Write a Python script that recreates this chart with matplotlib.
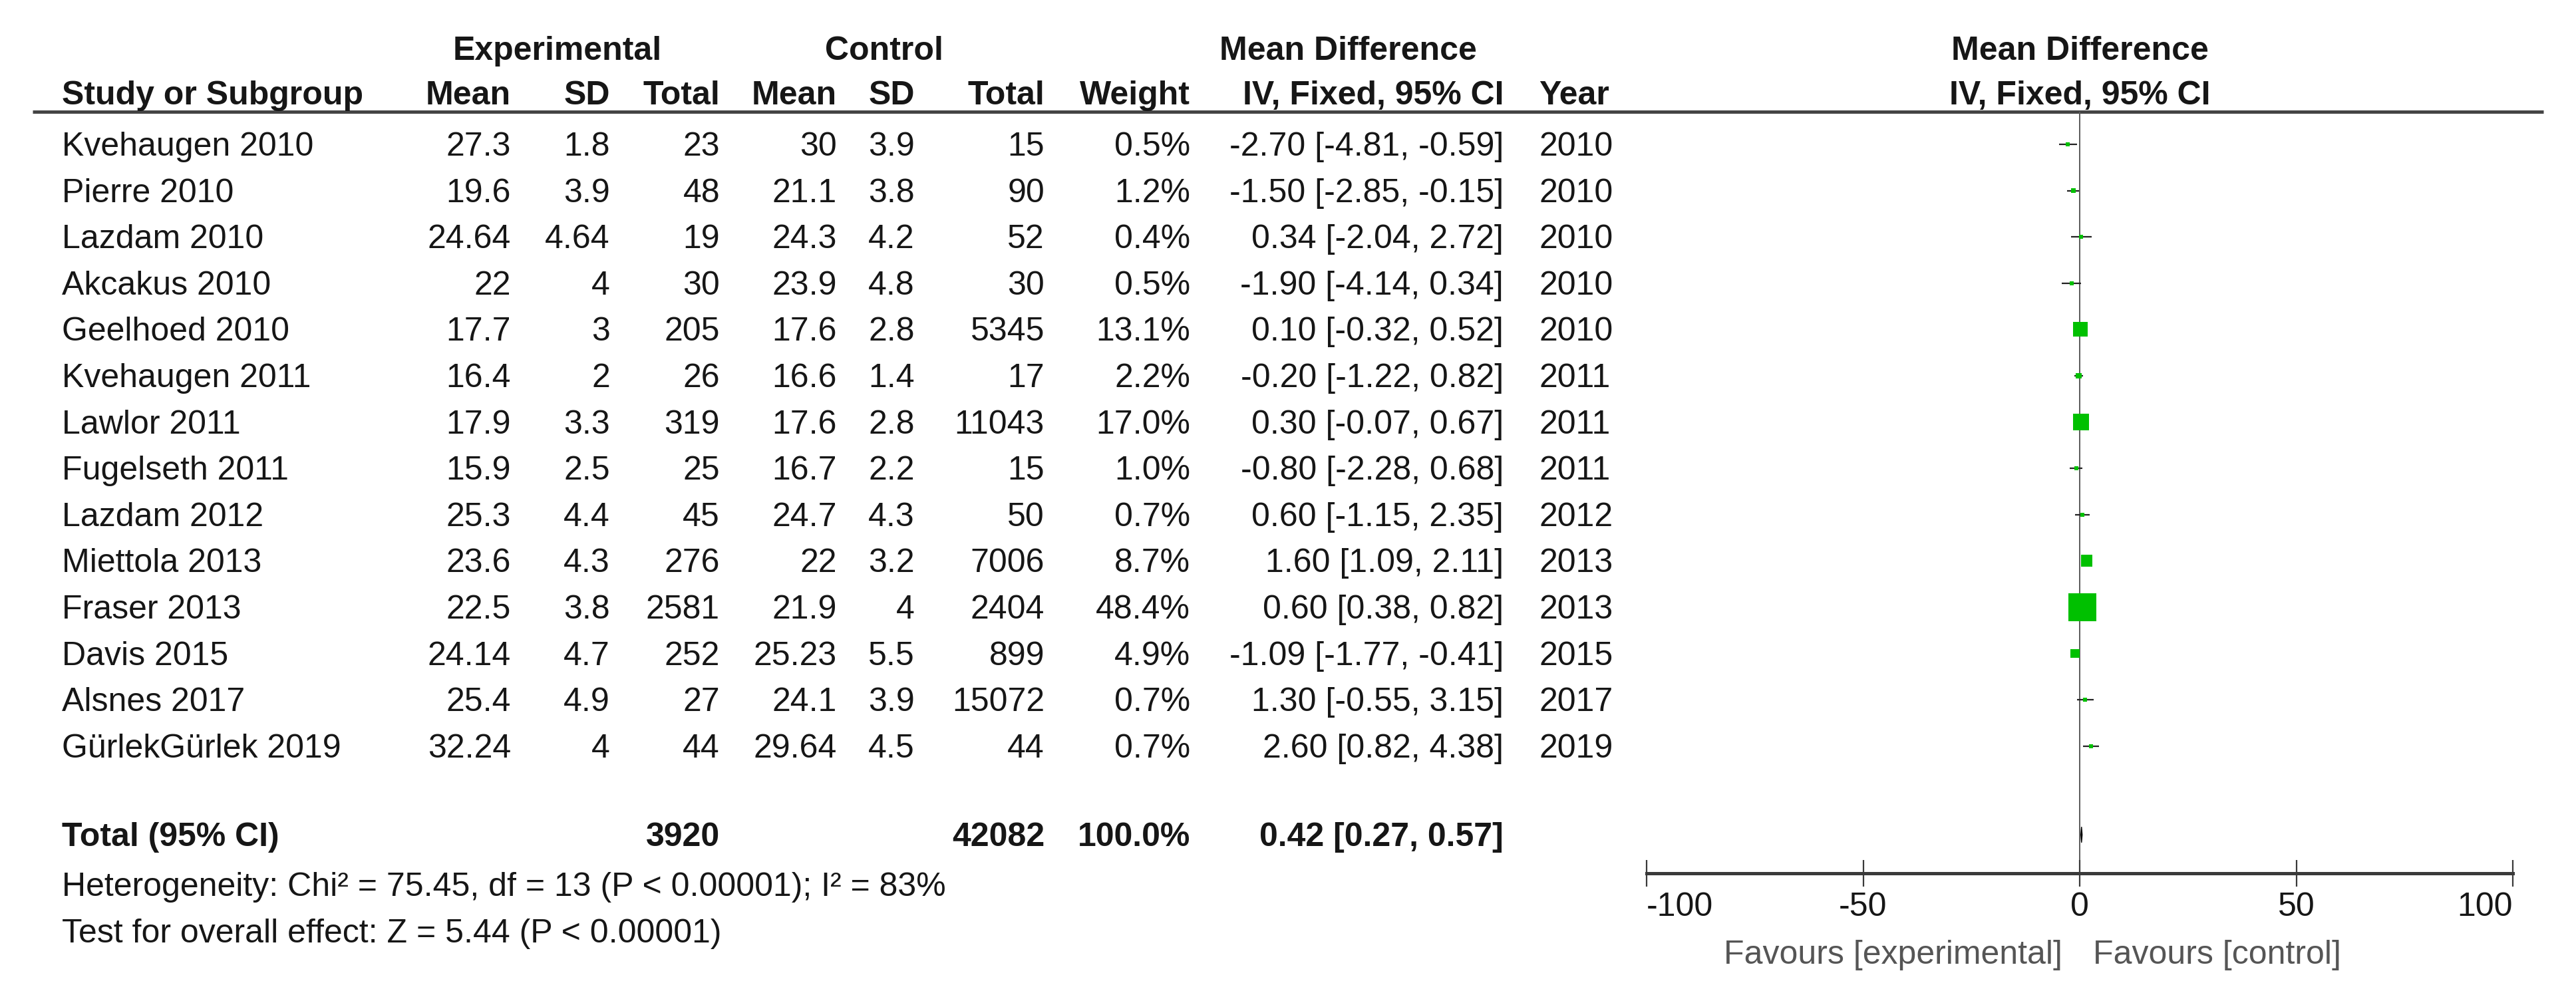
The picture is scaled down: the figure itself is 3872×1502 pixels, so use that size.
import matplotlib
matplotlib.use('Agg')
import matplotlib.pyplot as plt
import matplotlib.transforms as mtransforms
import numpy as np

plt.rcParams['font.family'] = ['Liberation Sans', 'DejaVu Sans']
plt.rcParams['axes.unicode_minus'] = False

# Study data
studies = ["Kvehaugen 2010", "Pierre 2010", "Lazdam 2010", "Akcakus 2010", "Geelhoed 2010",
           "Kvehaugen 2011", "Lawlor 2011", "Fugelseth 2011", "Lazdam 2012", "Miettola 2013",
           "Fraser 2013", "Davis 2015", "Alsnes 2017", "GürlekGürlek 2019"]
exp_mean = ["27.3", "19.6", "24.64", "22", "17.7", "16.4", "17.9", "15.9", "25.3", "23.6", "22.5", "24.14", "25.4", "32.24"]
exp_sd = ["1.8", "3.9", "4.64", "4", "3", "2", "3.3", "2.5", "4.4", "4.3", "3.8", "4.7", "4.9", "4"]
exp_n = [23, 48, 19, 30, 205, 26, 319, 25, 45, 276, 2581, 252, 27, 44]
ctl_mean = ["30", "21.1", "24.3", "23.9", "17.6", "16.6", "17.6", "16.7", "24.7", "22", "21.9", "25.23", "24.1", "29.64"]
ctl_sd = ["3.9", "3.8", "4.2", "4.8", "2.8", "1.4", "2.8", "2.2", "4.3", "3.2", "4", "5.5", "3.9", "4.5"]
ctl_n = [15, 90, 52, 30, 5345, 17, 11043, 15, 50, 7006, 2404, 899, 15072, 44]
weight = [0.5, 1.2, 0.4, 0.5, 13.1, 2.2, 17.0, 1.0, 0.7, 8.7, 48.4, 4.9, 0.7, 0.7]
md = [-2.70, -1.50, 0.34, -1.90, 0.10, -0.20, 0.30, -0.80, 0.60, 1.60, 0.60, -1.09, 1.30, 2.60]
ci_lo = [-4.81, -2.85, -2.04, -4.14, -0.32, -1.22, -0.07, -2.28, -1.15, 1.09, 0.38, -1.77, -0.55, 0.82]
ci_hi = [-0.59, -0.15, 2.72, 0.34, 0.52, 0.82, 0.67, 0.68, 2.35, 2.11, 0.82, -0.41, 3.15, 4.38]
years = [2010, 2010, 2010, 2010, 2010, 2011, 2011, 2011, 2012, 2013, 2013, 2015, 2017, 2019]

total_exp = 3920
total_ctl = 42082
total_md = 0.42
total_lo = 0.27
total_hi = 0.57
het_text = "Heterogeneity: Chi² = 75.45, df = 13 (P < 0.00001); I² = 83%"
z_text = "Test for overall effect: Z = 5.44 (P < 0.00001)"
xticks = [-100, -50, 0, 50, 100]

W, H = 3872, 1502
fig = plt.figure(figsize=(W / 100, H / 100), dpi=100)

# background axes in pixel coordinates for the table part
ax0 = fig.add_axes([0, 0, 1, 1])
ax0.set_xlim(0, W)
ax0.set_ylim(H, 0)
ax0.axis('off')

FS = 36
TXT = '#161616'
row0, dy = 217, 69.6
base = 17  # baseline offset from row centre


def row_y(i):
    return row0 + dy * i


def put(x, y, s, ha='right', bold=False, color=TXT):
    ax0.text(x, y + base, s, ha=ha, va='baseline', fontsize=FS,
             fontweight='bold' if bold else 'normal', color=color)


# column anchors (pixels)
x_name = 93
x_emean, x_esd, x_en = 768, 917, 1082
x_cmean, x_csd, x_cn = 1258, 1375, 1570
x_w, x_ci, x_year = 1789, 2260, 2313

# headers
put(838, 73, "Experimental", ha='center', bold=True)
put(1329, 73, "Control", ha='center', bold=True)
put(2026, 73, "Mean Difference", ha='center', bold=True)
put(3126, 73, "Mean Difference", ha='center', bold=True)
put(x_name, 140, "Study or Subgroup", ha='left', bold=True)
for x, s in [(x_emean, "Mean"), (x_esd, "SD"), (x_en, "Total"), (x_cmean, "Mean"),
             (x_csd, "SD"), (x_cn, "Total"), (x_w, "Weight"), (x_ci, "IV, Fixed, 95% CI")]:
    put(x, 140, s, bold=True)
put(x_year, 140, "Year", ha='left', bold=True)
put(3126, 140, "IV, Fixed, 95% CI", ha='center', bold=True)
ax0.plot([49, 3823], [168, 168], color='#454545', lw=3.6, solid_capstyle='butt')

# study rows
for i in range(len(studies)):
    y = row_y(i)
    put(x_name, y, studies[i], ha='left')
    put(x_emean, y, exp_mean[i])
    put(x_esd, y, exp_sd[i])
    put(x_en, y, str(exp_n[i]))
    put(x_cmean, y, ctl_mean[i])
    put(x_csd, y, ctl_sd[i])
    put(x_cn, y, str(ctl_n[i]))
    put(x_w, y, f"{weight[i]:.1f}%")
    put(x_ci, y, f"{md[i]:.2f} [{ci_lo[i]:.2f}, {ci_hi[i]:.2f}]")
    put(x_year, y, str(years[i]), ha='left')

# total row
y_tot = 1255
put(x_name, y_tot, "Total (95% CI)", ha='left', bold=True)
put(x_en, y_tot, str(total_exp), bold=True)
put(x_cn, y_tot, str(total_ctl), bold=True)
put(x_w, y_tot, f"{sum(weight):.1f}%", bold=True)
put(x_ci, y_tot, f"{total_md:.2f} [{total_lo:.2f}, {total_hi:.2f}]", bold=True)
put(x_name, 1330, het_text, ha='left')
put(x_name, 1400, z_text, ha='left')

# forest plot axes: x from -100 to 100, spanning pixels 2475..3777, y from header line to axis line
y_top, y_axis = 168, 1313
ax_f = fig.add_axes([2475 / W, 1 - y_axis / H, (3777 - 2475) / W, (y_axis - y_top) / H])
ax_f.set_xlim(-100, 100)
ax_f.set_ylim((y_axis - row0) / dy, (y_top - row0) / dy)
ax_f.patch.set_alpha(0)
for s in ['top', 'left', 'right']:
    ax_f.spines[s].set_visible(False)
ax_f.spines['bottom'].set_linewidth(3.6)
ax_f.spines['bottom'].set_color('#3a3a3a')
ax_f.set_yticks([])
ax_f.set_xticks(xticks)
ax_f.set_xticklabels([str(t) for t in xticks])
ax_f.tick_params(axis='x', direction='inout', length=29, width=1.6, color='#3a3a3a',
                 labelsize=FS, labelcolor=TXT, pad=6)
labs = ax_f.get_xticklabels()
labs[0].set_ha('left')
labs[-1].set_ha('right')

ax_f.axvline(0, color='#5a5a5a', lw=1.4, zorder=1)

ypos = np.arange(len(studies))
ax_f.hlines(ypos, ci_lo, ci_hi, color='#222222', lw=1.6, zorder=2)
side_px = np.maximum(42 * np.sqrt(np.array(weight) / max(weight)), 6)
side_pt = side_px * 72 / 100
ax_f.scatter(md, ypos, marker='s', s=side_pt ** 2, color='#00c000', linewidths=0, zorder=3)

# pooled diamond
yt = (y_tot - row0) / dy
ax_f.fill([total_lo, total_md, total_hi, total_md], [yt, yt - 0.17, yt, yt + 0.17],
          color='black', zorder=3)

# favours labels under the axis
tr = mtransforms.blended_transform_factory(ax_f.transData, ax0.transData)
ax0.text(-4, 1432 + base, "Favours [experimental]", transform=tr, ha='right', va='baseline',
         fontsize=FS, color='#555555')
ax0.text(3, 1432 + base, "Favours [control]", transform=tr, ha='left', va='baseline',
         fontsize=FS, color='#555555')

fig.savefig("out.png", dpi=100, facecolor='white')
